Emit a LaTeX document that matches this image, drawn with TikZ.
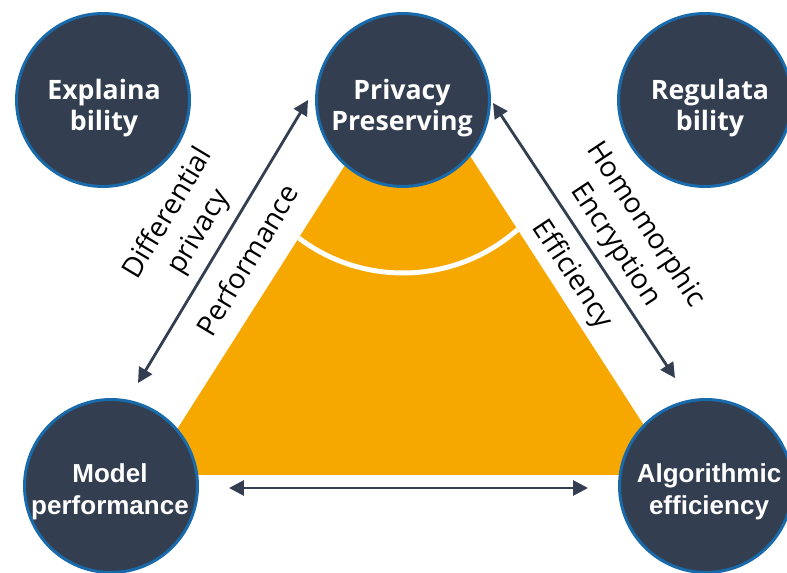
\documentclass[tikz,border=0pt]{standalone}
\usepackage{fontspec}
\newfontfamily\osans{Open Sans}
\newfontfamily\lsans{Liberation Sans}
\usetikzlibrary{arrows.meta}
\definecolor{slate}{RGB}{51,63,80}
\definecolor{ringblue}{RGB}{24,106,171}
\definecolor{amber}{RGB}{247,168,0}
\tikzset{
  hub/.style={circle, fill=slate, draw=ringblue, line width=1.7pt,
    minimum size=3.46cm, inner sep=0pt},
  hubos/.style={text=white, align=center, font=\osans\bfseries\fontsize{15.2}{18}\selectfont},
  hubls/.style={text=white, align=center, font=\lsans\bfseries\fontsize{14.8}{18.5}\selectfont},
  tradeoff/.style={align=center, font=\osans\fontsize{16}{20.5}\selectfont},
  link/.style={draw=slate, line width=1.6pt, {Triangle[length=8.5pt,width=8.5pt]}-{Triangle[length=8.5pt,width=8.5pt]}}
}
\begin{document}
\begin{tikzpicture}[x=0.02cm, y=-0.02cm]
  \useasboundingbox (0,0) rectangle (787,573);
  % the orange triangle with its white arc
  \fill[amber] (148,475) -- (410,63) -- (676,475) -- cycle;
  \begin{scope}
    \clip (148,475) -- (410,63) -- (676,475) -- cycle;
    \draw[white, line width=2.8pt] (403,100) circle[radius=3.46cm];
  \end{scope}
  % ends of the arrows
  \coordinate (pm1) at (138,383);
  \coordinate (pm2) at (308,100);
  \coordinate (pa1) at (493,103);
  \coordinate (pa2) at (675,378);
  \coordinate (ma1) at (229,488);
  \coordinate (ma2) at (588,488);
  \begin{scope}[link]
    \draw (pm1) to (pm2);
    \draw (pa1) to (pa2);
    \draw (ma1) to (ma2);
  \end{scope}
  \draw
    (103,100) node[hub] (E){}
    (403,100) node[hub] (P){}
    (705,100) node[hub] (R){}
    (111,486) node[hub] (M){}
    (706,486) node[hub] (A){};
  \draw
    (104,108) node[hubos] (Et){Explaina\\bility}
    (402,108) node[hubos] (Pt){Privacy\\Preserving}
    (710,108) node[hubos] (Rt){Regulata\\bility}
    (110,492) node[hubls] (Mt){Model\\performance}
    (709,492) node[hubls] (At){Algorithmic\\efficiency};
  \draw
    (184,223) node[tradeoff, rotate=59] (dp){Differential\\privacy}
    (247,260) node[tradeoff, rotate=59] (perf){Performance}
    (630,235) node[tradeoff, rotate=-56.5] (he){Homomorphic\\Encryption}
    (572,275) node[tradeoff, rotate=-56.5] (eff){Efficiency};
\end{tikzpicture}
\end{document}
